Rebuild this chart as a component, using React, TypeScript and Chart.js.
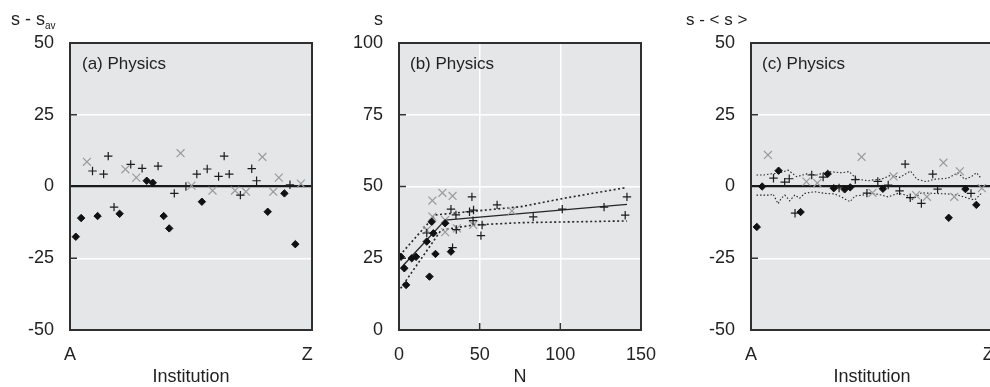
import React, { useEffect, useRef } from 'react';
import { Chart, registerables } from 'chart.js';

Chart.register(...registerables);

const FONT = "'Liberation Sans', Arial, Helvetica, sans-serif";
const TEXT = '#222222';

// Institution positions on the A–Z axis (0–100), shared by panels (a) and (c)
const crossInstitutions = [7.0, 22.9, 27.4, 45.7, 50.2, 58.9, 68.2, 72.7, 79.5, 84.0, 86.3, 95.4];
const plusInstitutions = [9.3, 13.9, 15.8, 18.2, 25.1, 29.8, 36.4, 43.1, 47.9, 52.4, 56.7, 61.4, 63.7, 65.8, 70.4, 75.1, 77.1, 90.9];
const diamondInstitutions = [2.4, 4.6, 11.4, 20.5, 31.7, 34.2, 38.7, 41.0, 54.5, 81.7, 88.6, 93.1];

// Panel (a): s - s_av
const crossA = [8.6, 6.0, 3.1, 11.6, 0.3, -1.4, -1.4, -1.8, 10.3, -1.8, 3.1, 1.0];
const plusA = [5.4, 4.3, 10.6, -7.2, 7.7, 6.3, 7.1, -2.4, 0.0, 4.3, 6.1, 3.5, 10.6, 4.3, -3.0, 6.2, 2.0, 0.6];
const diamondA = [-17.5, -11.0, -10.3, -9.5, 2.0, 1.3, -10.3, -14.6, -5.3, -8.8, -2.4, -20.1];

// Panel (b): s against N
const diamondN = [1.2, 3.3, 4.4, 7.9, 10.6, 17.2, 20.3, 21.3, 18.9, 22.6, 28.6, 32.2];
const diamondS = [25.5, 21.5, 15.7, 25.0, 25.5, 30.8, 37.7, 33.7, 18.6, 26.5, 37.2, 27.3];
const plusN = [45.2, 32.2, 35.3, 43.7, 46.2, 45.9, 51.5, 50.8, 60.8, 83.2, 101.2, 127.1, 141.3, 140.2, 17.2, 33.2, 35.5];
const plusS = [46.4, 42.1, 40.1, 41.2, 41.8, 38.1, 36.6, 32.9, 43.6, 39.4, 42.1, 42.8, 46.4, 40.0, 33.8, 28.7, 35.0];
const crossN = [20.7, 26.9, 33.2, 20.7, 17.2, 28.6, 35.9, 46.0, 70.0, 28.6];
const crossS = [45.1, 47.8, 46.7, 39.5, 34.8, 34.1, 35.4, 36.6, 41.5, 38.3];
const fitN = [1, 28.6, 141.3];
const fitS = [21.5, 38.3, 43.8];
const upperN = [0.5, 22.6, 50.4, 75.9, 102.3, 140.6];
const upperS = [26.0, 40.1, 41.6, 43.0, 45.9, 49.6];
const lowerN = [1, 26.1, 46.2, 75.9, 141.3];
const lowerS = [14.5, 34.8, 36.6, 37.4, 38.0];

// Panel (c): s - <s>
const crossC = [11.0, 1.7, 1.2, 10.3, -2.2, 3.5, -3.0, -3.6, 8.3, -3.6, 5.3, -0.6];
const plusC = [2.9, 1.5, 2.7, -9.3, 4.0, 3.3, -0.5, 2.4, -2.3, 1.8, 0.5, -1.5, 7.8, -3.9, -5.9, 4.3, -0.9, -2.4];
const diamondC = [-14.1, 0.0, 5.5, -8.9, 4.4, -0.6, -1.0, -0.3, -0.8, -10.9, -0.9, -6.4];
const bandUpperX = [2.3, 5.4, 7.9, 11.3, 15.4, 18.9, 23.0, 27.1, 31.8, 37.5, 40.5, 43.7, 48.3, 50.5, 53.8, 57.4, 61.6, 65.9, 68.6, 72.4, 75.6, 81.4, 85.5, 88.3, 91.0, 93.2, 95.2];
const bandUpperY = [4.0, 4.0, 4.4, 4.6, 5.7, 3.4, 4.4, 4.0, 5.2, 4.8, 5.2, 2.6, 2.0, 2.3, 2.5, 3.8, 3.2, 5.4, 2.5, 1.7, 2.5, 2.9, 4.8, 2.5, 3.4, 4.8, 2.7];
const bandLowerX = [2.3, 5.7, 7.9, 9.1, 11.2, 12.5, 14.0, 16.0, 18.1, 20.1, 22.2, 26.3, 30.5, 34.6, 37.3, 40.9, 43.0, 46.3, 49.0, 52.5, 56.6, 60.7, 64.3, 66.4, 70.4, 75.3, 81.4, 85.5, 89.7, 92.4, 95.2];
const bandLowerY = [-3.0, -3.0, -3.0, -2.6, -6.0, -4.1, -3.0, -5.0, -3.0, -4.1, -2.4, -1.8, -2.4, -2.6, -3.6, -5.3, -3.3, -3.0, -2.4, -2.7, -3.6, -2.4, -3.0, -4.7, -2.2, -2.4, -2.6, -3.0, -4.1, -4.7, -2.4];

const xTicksInstitution = [0, 98];
const xTicksN = [0, 50, 100, 150];

const pts = (xs: number[], ys: number[]) => xs.map((x, i) => ({ x, y: ys[i] }));

const diamondStyle = {
  pointStyle: 'rectRot', pointRadius: 3.7, pointHoverRadius: 3.7,
  backgroundColor: '#111', borderColor: '#111', borderWidth: 1, showLine: false, order: 1,
};
const plusStyle = {
  pointStyle: 'cross', pointRadius: 4.2, pointHoverRadius: 4.2,
  backgroundColor: 'transparent', borderColor: '#1c1c1c', borderWidth: 1.2, showLine: false, order: 1,
};
const crossStyle = {
  pointStyle: 'crossRot', pointRadius: 5.6, pointHoverRadius: 5.6,
  backgroundColor: 'transparent', borderColor: '#9a9a9a', borderWidth: 1.2, showLine: false, order: 2,
};
const lineStyle = (dash: number[], width: number) => ({
  showLine: true, pointRadius: 0, pointHoverRadius: 0, borderColor: '#262626',
  borderWidth: width, borderDash: dash, fill: false, tension: 0, order: 5,
});

const framePlugin = {
  id: 'frame',
  beforeDraw(chart: any) {
    const { ctx, chartArea: ca } = chart;
    ctx.save();
    ctx.fillStyle = '#e5e6e8';
    ctx.fillRect(ca.left, ca.top, ca.right - ca.left, ca.bottom - ca.top);
    ctx.restore();
  },
  beforeDatasetsDraw(chart: any, _a: any, opts: any) {
    const { ctx, chartArea: ca, scales } = chart;
    ctx.save();
    ctx.strokeStyle = '#333';
    ctx.lineWidth = 1.5;
    (opts.yMarks || []).forEach((v: number) => {
      const y = scales.y.getPixelForValue(v);
      ctx.beginPath();
      ctx.moveTo(ca.left, y);
      ctx.lineTo(ca.left + 7, y);
      ctx.stroke();
    });
    (opts.xMarks || []).forEach((v: number) => {
      const x = scales.x.getPixelForValue(v);
      ctx.beginPath();
      ctx.moveTo(x, ca.bottom);
      ctx.lineTo(x, ca.bottom - 7);
      ctx.stroke();
    });
    ctx.restore();
  },
  afterDraw(chart: any, _a: any, opts: any) {
    const { ctx, chartArea: ca } = chart;
    ctx.save();
    ctx.strokeStyle = '#303030';
    ctx.lineWidth = 2;
    ctx.strokeRect(ca.left, ca.top, ca.right - ca.left, ca.bottom - ca.top);
    ctx.fillStyle = TEXT;
    ctx.textBaseline = 'alphabetic';
    (opts.texts || []).forEach((t: any) => {
      ctx.font = `${t.size}px ${FONT}`;
      ctx.textAlign = t.align || 'left';
      ctx.fillText(t.text, t.x, t.y);
    });
    ctx.restore();
  },
};

type Panel = {
  width: number;
  height: number;
  area: { left: number; right: number; top: number; bottom: number };
  xMin: number; xMax: number; xTicks: number[]; xLabel: (v: number) => string; xTitle: string;
  yMin: number; yMax: number; yStep: number;
  zeroLine: boolean; hGrid: number[]; vGrid: number[];
  yMarks: number[]; xMarks: number[];
  datasets: any[];
  texts: any[];
};

function makeConfig(p: Panel): any {
  return {
    type: 'scatter',
    data: { datasets: p.datasets },
    plugins: [framePlugin],
    options: {
      responsive: false,
      animation: false,
      devicePixelRatio: 1,
      events: [],
      layout: { padding: { left: 0, top: p.area.top, right: p.width - p.area.right, bottom: 0 } },
      plugins: {
        legend: { display: false },
        tooltip: { enabled: false },
        frame: { yMarks: p.yMarks, xMarks: p.xMarks, texts: p.texts },
      },
      scales: {
        x: {
          type: 'linear',
          min: p.xMin,
          max: p.xMax,
          afterBuildTicks: (s: any) => { s.ticks = p.xTicks.map((v) => ({ value: v })); },
          afterFit: (s: any) => {
            s.height = p.height - p.area.bottom;
            s.paddingLeft = 0; s.paddingRight = 0;
          },
          ticks: {
            autoSkip: false, maxRotation: 0, minRotation: 0, padding: 14,
            color: TEXT, font: { family: FONT, size: 18 },
            callback: (v: any) => p.xLabel(Number(v)),
          },
          grid: {
            drawTicks: false,
            color: (c: any) => (c.tick && p.vGrid.includes(c.tick.value) ? '#ffffff' : 'rgba(0,0,0,0)'),
            lineWidth: 1.5,
          },
          border: { display: false },
          title: {
            display: true, text: p.xTitle, color: TEXT,
            font: { family: FONT, size: 18 }, padding: { top: 0, bottom: -1 },
          },
        },
        y: {
          type: 'linear',
          min: p.yMin,
          max: p.yMax,
          afterFit: (s: any) => {
            s.width = p.area.left;
            s.paddingTop = 0; s.paddingBottom = 0;
          },
          ticks: {
            stepSize: p.yStep, padding: 16, color: TEXT,
            font: { family: FONT, size: 18 },
          },
          grid: {
            drawTicks: false,
            color: (c: any) => {
              if (!c.tick) return 'rgba(0,0,0,0)';
              if (p.zeroLine && c.tick.value === 0) return '#1a1a1a';
              return p.hGrid.includes(c.tick.value) ? '#ffffff' : 'rgba(0,0,0,0)';
            },
            lineWidth: (c: any) => (c.tick && p.zeroLine && c.tick.value === 0 ? 2.2 : 1.5),
          },
          border: { display: false },
        },
      },
    },
  };
}

const instLabel = (v: number) => (v === 0 ? 'A' : 'Z');

const panelA: Panel = {
  width: 330, height: 387,
  area: { left: 70, right: 312, top: 43, bottom: 330 },
  xMin: 0, xMax: 100, xTicks: xTicksInstitution, xLabel: instLabel, xTitle: 'Institution',
  yMin: -50, yMax: 50, yStep: 25,
  zeroLine: true, hGrid: [25, -25], vGrid: [], yMarks: [25, -25], xMarks: [],
  datasets: [
    { ...diamondStyle, data: pts(diamondInstitutions, diamondA) },
    { ...plusStyle, data: pts(plusInstitutions, plusA) },
    { ...crossStyle, data: pts(crossInstitutions, crossA) },
  ],
  texts: [
    { text: '(a) Physics', x: 82, y: 69, size: 17 },
    { text: 's - s', x: 11, y: 25, size: 18 },
    { text: 'av', x: 45, y: 29, size: 10 },
  ],
};

const panelB: Panel = {
  width: 330, height: 387,
  area: { left: 69, right: 311, top: 43, bottom: 330 },
  xMin: 0, xMax: 150, xTicks: xTicksN, xLabel: (v) => String(v), xTitle: 'N',
  yMin: 0, yMax: 100, yStep: 25,
  zeroLine: false, hGrid: [25, 50, 75], vGrid: [50, 100], yMarks: [25, 50, 75], xMarks: [50, 100],
  datasets: [
    { ...diamondStyle, data: pts(diamondN, diamondS) },
    { ...plusStyle, data: pts(plusN, plusS) },
    { ...crossStyle, data: pts(crossN, crossS) },
    { ...lineStyle([], 1.3), data: pts(fitN, fitS) },
    { ...lineStyle([2, 2.5], 1.6), data: pts(upperN, upperS) },
    { ...lineStyle([2, 2.5], 1.6), data: pts(lowerN, lowerS) },
  ],
  texts: [
    { text: '(b) Physics', x: 80, y: 69, size: 17 },
    { text: 's', x: 53, y: 25, size: 18, align: 'right' },
  ],
};

const panelC: Panel = {
  width: 345, height: 387,
  area: { left: 91, right: 333, top: 43, bottom: 330 },
  xMin: 0, xMax: 100, xTicks: xTicksInstitution, xLabel: instLabel, xTitle: 'Institution',
  yMin: -50, yMax: 50, yStep: 25,
  zeroLine: true, hGrid: [25, -25], vGrid: [], yMarks: [25, -25], xMarks: [],
  datasets: [
    { ...diamondStyle, data: pts(diamondInstitutions, diamondC) },
    { ...plusStyle, data: pts(plusInstitutions, plusC) },
    { ...crossStyle, data: pts(crossInstitutions, crossC) },
    { ...lineStyle([1.5, 2], 1.1), data: pts(bandUpperX, bandUpperY) },
    { ...lineStyle([1.5, 2], 1.1), data: pts(bandLowerX, bandLowerY) },
  ],
  texts: [
    { text: '(c) Physics', x: 102, y: 69, size: 17 },
    { text: 's - < s >', x: 26, y: 25, size: 17 },
  ],
};

function PanelChart({ panel, left }: { panel: Panel; left: number }) {
  const ref = useRef<HTMLCanvasElement | null>(null);
  useEffect(() => {
    if (!ref.current) return;
    const chart = new Chart(ref.current, makeConfig(panel));
    return () => chart.destroy();
  }, [panel]);
  return (
    <canvas
      ref={ref}
      width={panel.width}
      height={panel.height}
      style={{ position: 'absolute', left, top: 0, width: panel.width, height: panel.height, display: 'block' }}
    />
  );
}

export default function App() {
  return (
    <div
      style={{
        position: 'fixed', left: 0, top: 0, width: 990, height: 387,
        overflow: 'hidden', background: '#ffffff',
      }}
    >
      <PanelChart panel={panelA} left={0} />
      <PanelChart panel={panelB} left={330} />
      <PanelChart panel={panelC} left={660} />
    </div>
  );
}
